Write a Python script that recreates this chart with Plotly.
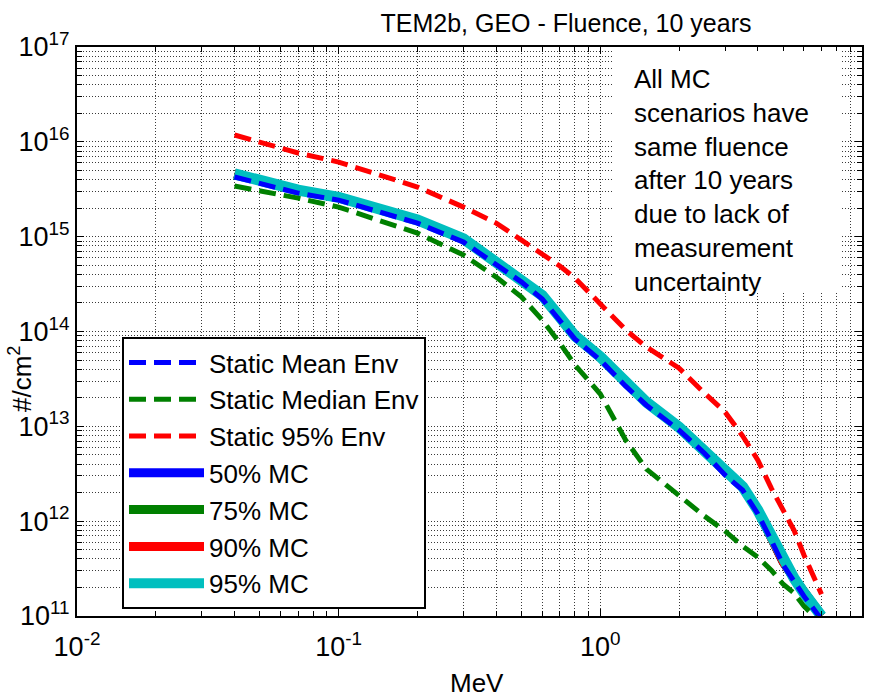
import plotly.graph_objects as go

# ---------------- data ----------------
energy_mev = [0.04, 0.07, 0.1, 0.2, 0.3, 0.4, 0.5, 0.6, 0.7, 0.8, 1.0, 1.25, 1.5,
              2.0, 2.5, 3.0, 3.5, 4.0, 4.5, 5.0, 5.5, 6.0, 7.0]

static_mean = [4.26e15, 2.88e15, 2.43e15, 1.39e15, 8.77e14, 5.14e14, 3.32e14, 2.20e14,
               1.32e14, 8.3e13, 4.99e13, 2.65e13, 1.67e13, 9.1e12, 5.2e12, 3.05e12,
               2.12e12, 1.19e12, 6.3e11, 3.44e11, 2.33e11, 1.62e11, 9.2e10]

static_median = [3.42e15, 2.55e15, 2.05e15, 1.09e15, 6.4e14, 3.75e14, 2.31e14, 1.32e14,
                 7.55e13, 4.43e13, 2.19e13, 7.15e12, 3.54e12, 1.84e12, 1.13e12, 7.85e11,
                 5.45e11, 4.17e11, 3.04e11, 2.16e11, 1.74e11, 1.27e11, 8.4e10]

static_95 = [1.18e16, 7.62e15, 6.12e15, 3.34e15, 2.05e15, 1.39e15, 9.2e14, 6.55e14,
             4.9e14, 3.66e14, 1.99e14, 1.04e14, 6.85e13, 4.11e13, 2.24e13, 1.41e13,
             7.9e12, 4.40e12, 2.23e12, 1.31e12, 8.0e11, 4.4e11, 1.7e11]

# All MC scenarios share the same fluence after 10 years
mc_fluence = [4.6e15, 3.1e15, 2.6e15, 1.5e15, 9.5e14, 5.5e14, 3.6e14, 2.4e14,
              1.42e14, 9.0e13, 5.4e13, 2.85e13, 1.8e13, 9.8e12, 5.6e12, 3.3e12,
              2.3e12, 1.3e12, 6.8e11, 3.7e11, 2.5e11, 1.75e11, 1.0e11]

x_tick_vals = [1e-2, 1e-1, 1e0, 1e1]
x_tick_exps = ["-2", "-1", "0", "1"]
y_tick_vals = [1e11, 1e12, 1e13, 1e14, 1e15, 1e16, 1e17]
y_tick_exps = ["11", "12", "13", "14", "15", "16", "17"]

title_text = "TEM2b, GEO - Fluence, 10 years"
note_text = ("All MC<br>scenarios have<br>same fluence<br>after 10 years"
             "<br>due to lack of<br>measurement<br>uncertainty")

FONT = "Arial, Liberation Sans, sans-serif"

def pow_label(e):
    return "10<sup>%s</sup>" % e

fig = go.Figure()

# MC solid lines (drawn first, below the static dashed lines)
mc_specs = [("50% MC", "#0000FF", 9), ("75% MC", "#008000", 9),
            ("90% MC", "#FF0000", 9), ("95% MC", "#00BFBF", 11)]
for i, (name, col, w) in enumerate(mc_specs):
    fig.add_trace(go.Scatter(x=energy_mev, y=mc_fluence, mode="lines", name=name,
                             line=dict(color=col, width=w),
                             legendrank=10 + i, legendgroup="g%d" % (10 + i)))

static_specs = [("Static Mean Env", "#0000FF", static_mean),
                ("Static Median Env", "#008000", static_median),
                ("Static 95% Env", "#FF0000", static_95)]
for i, (name, col, vals) in enumerate(static_specs):
    fig.add_trace(go.Scatter(x=energy_mev, y=vals, mode="lines", name=name,
                             line=dict(color=col, width=5, dash="17px,8px"),
                             legendrank=i + 1, legendgroup="g%d" % i))

x_minor = [m * 10.0 ** k for k in range(-2, 1) for m in range(2, 10)]
y_minor = [m * 10.0 ** k for k in range(11, 17) for m in range(2, 10)]

GRID = "#3a3a3a"
axis_common = dict(
    type="log", showline=True, linecolor="black", linewidth=2, mirror="allticks",
    ticks="inside", ticklen=7, tickcolor="black", tickwidth=1,
    showgrid=True, gridcolor=GRID, gridwidth=1, griddash="1px,2px",
    zeroline=False, tickfont=dict(family=FONT, size=27, color="black"),
)
minor_common = dict(tickmode="array", ticks="inside", ticklen=5, tickcolor="black",
                    showgrid=True, gridcolor=GRID, griddash="1px,2px", gridwidth=1)

fig.update_xaxes(range=[-2, 1], tickmode="array", tickvals=x_tick_vals,
                 ticktext=[pow_label(e) for e in x_tick_exps], ticklabelstandoff=6,
                 minor=dict(tickvals=x_minor, **minor_common),
                 **axis_common)
fig.update_yaxes(range=[11, 17], tickmode="array", tickvals=y_tick_vals,
                 ticktext=[pow_label(e) for e in y_tick_exps],
                 minor=dict(tickvals=y_minor, **minor_common),
                 **axis_common)

# white note box
fig.add_shape(type="rect", xref="paper", yref="paper",
              x0=(613 - 77) / 785, x1=(840 - 77) / 785,
              y0=(616 - 293) / 569, y1=(616 - 51) / 569,
              fillcolor="white", line=dict(width=0), layer="above")

fig.add_annotation(text=note_text, xref="paper", yref="paper",
                   x=(632 - 77) / 785, y=(616 - 62) / 569, xanchor="left", yanchor="top",
                   align="left", showarrow=False,
                   font=dict(family=FONT, size=26, color="black"))

# axis titles
fig.add_annotation(text="MeV", xref="paper", yref="paper",
                   x=(477 - 77) / 785, y=(616 - 683) / 569, xanchor="center", yanchor="middle",
                   showarrow=False, font=dict(family=FONT, size=26, color="black"))
fig.add_annotation(text="#/cm<sup>2</sup>", xref="paper", yref="paper",
                   x=(20 - 77) / 785, y=(616 - 379) / 569, xanchor="center", yanchor="middle",
                   textangle=-90, showarrow=False,
                   font=dict(family=FONT, size=26, color="black"))

fig.update_layout(
    width=877, height=697,
    margin=dict(l=77, r=15, t=47, b=81),
    paper_bgcolor="white", plot_bgcolor="white",
    font=dict(family=FONT, color="black"),
    title=dict(text=title_text, xref="paper", x=(566 - 77) / 785, xanchor="center",
               yref="container", y=1 - 23 / 697, yanchor="middle",
               font=dict(family=FONT, size=25, color="black")),
    legend=dict(x=(122 - 77) / 785, y=(616 - 337) / 569, xanchor="left", yanchor="top",
                bgcolor="white", bordercolor="black", borderwidth=2,
                font=dict(family=FONT, size=26, color="black"),
                tracegroupgap=0, itemwidth=75, traceorder="grouped"),
    showlegend=True,
)

fig.write_html("out.html")
